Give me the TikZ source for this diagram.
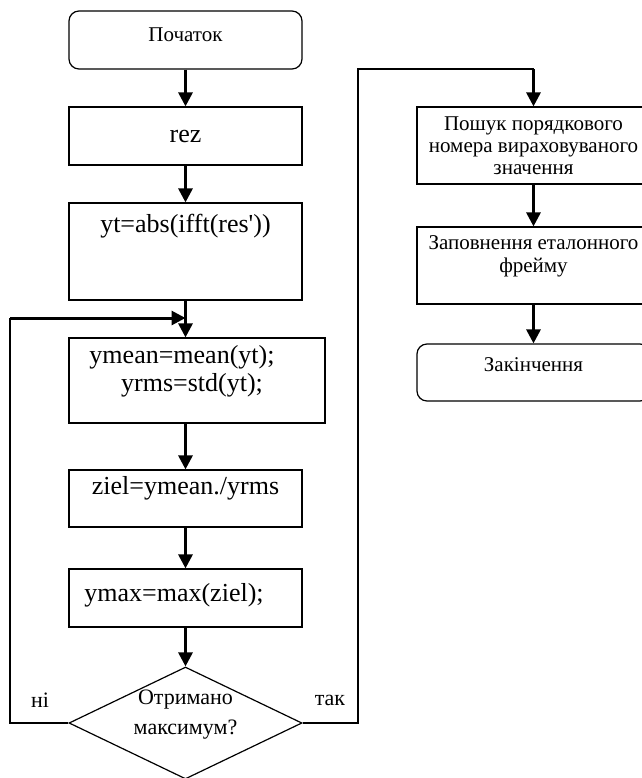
\documentclass[tikz,border=0pt]{standalone}
\usepackage{fontspec}
\setmainfont{Liberation Serif}
\usetikzlibrary{arrows.meta,shapes.geometric}
\tikzset{
	box/.style={draw, line width=0.6pt, minimum width=116.5pt, inner sep=0pt},
	term/.style={box, rounded corners=5pt},
	code/.style={inner sep=0pt, align=center, font=\fontsize{13}{14}\selectfont},
	ua/.style={inner sep=0pt, align=center, font=\fontsize{10.5}{11}\selectfont},
	arr/.style={line width=1.5pt, -{Triangle[length=7pt,width=7pt]}},
	ln/.style={line width=0.6pt},
}
\begin{document}
\begin{tikzpicture}[x=0.5pt,y=-0.5pt]
	\clip (0,0) rectangle (642,778);
	% left column
	\node [term, minimum height=29pt] (start) at (185.5,40) {};
	\node [ua] (startt) at (185.5,35) {Початок};
	\node [box, minimum height=29pt, code] (rez) at (185.5,136) {rez};
	\node [box, minimum height=48.5pt] (yt) at (185.5,251.5) {};
	\node [code] (ytt) at (185.5,226) {yt=abs(ifft(res\textquotesingle))};
	\node [box, minimum width=128pt, minimum height=42.5pt] (mean) at (197,380.5) {};
	\node [code] (meant) at (192,371) {ymean=mean(yt);\hspace*{10pt}\\yrms=std(yt);};
	\node [box, minimum height=28.5pt] (ziel) at (185.5,498.5) {};
	\node [code] (zielt) at (185.5,488) {ziel=ymean./yrms};
	\node [box, minimum height=29pt] (ymax) at (185.5,598) {};
	\node [code] (ymaxt) at (174,595) {ymax=max(ziel);};
	\node [draw, diamond, line width=0.6pt, inner sep=0pt, minimum width=116.5pt, minimum height=56pt] (dec) at (185.5,723) {};
	\node [ua, font=\fontsize{11}{15}\selectfont] (dect) at (185.5,715) {Отримано\\максимум?};
	\node [ua, font=\fontsize{11}{11}\selectfont] (no) at (40,700) {ні};
	\node [ua, font=\fontsize{11}{11}\selectfont] (yes) at (330,700) {так};
	% right column
	\node [box, minimum height=38.5pt] (find) at (533.5,145.5) {};
	\node [ua] (findt) at (533.5,146) {Пошук порядкового\\номера вираховуваного\\значення};
	\node [box, minimum height=38.5pt] (fill) at (533.5,265.5) {};
	\node [ua, font=\fontsize{10.5}{11.5}\selectfont] (fillt) at (533.5,256.5) {Заповнення еталонного\\фрейму};
	\node [term, minimum height=28.5pt] (stop) at (533.5,372.5) {};
	\node [ua] (stopt) at (533.5,365) {Закінчення};
	\coordinate (lc) at (10,318);
	\coordinate (join) at (185.5,318);
	\coordinate (rc) at (358,69);
	\coordinate (rt) at (533.5,69);

	\draw [arr] (start) -- (rez);
	\draw [arr] (rez) -- (yt);
	\draw [arr] (yt.south) -- (yt.south |- mean.north);
	\draw [arr] (ziel.north |- mean.south) -- (ziel.north);
	\draw [arr] (ziel) -- (ymax);
	\draw [arr] (ymax) -- (dec);
	\draw [ln] (dec.west) -| (lc);
	\draw [arr] (lc) -- (join);
	\draw [ln] (dec.east) -| (rc) -- (rt);
	\draw [arr] (rt) -- (find);
	\draw [arr] (find) -- (fill);
	\draw [arr] (fill) -- (stop);
\end{tikzpicture}
\end{document}
